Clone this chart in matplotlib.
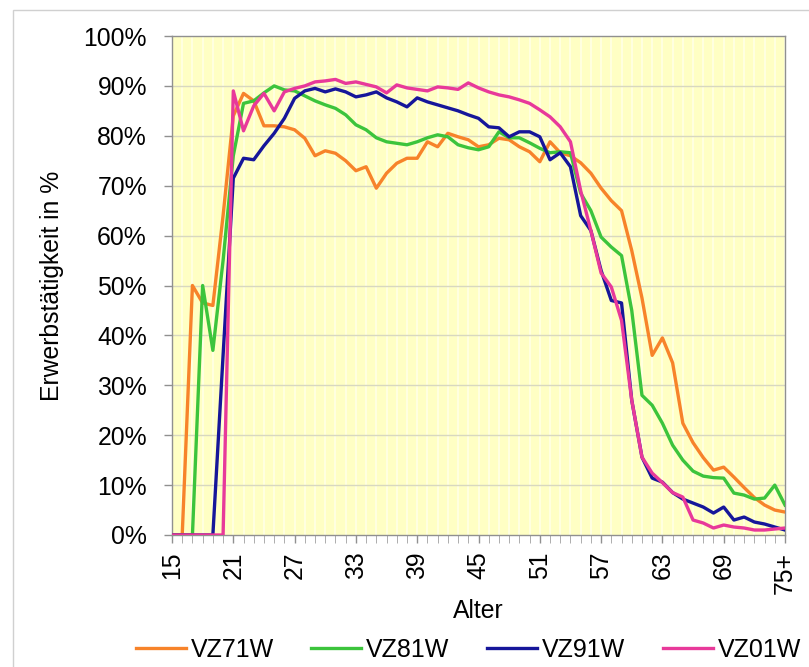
import numpy as np
import matplotlib.pyplot as plt
from matplotlib.patches import Rectangle

# Erwerbstätigkeit nach Alter (Volkszählungen), Werte in %
ages = list(range(15, 76))
tick_ages = [15, 21, 27, 33, 39, 45, 51, 57, 63, 69, 75]
tick_labels = ['15', '21', '27', '33', '39', '45', '51', '57', '63', '69', '75+']

vz71w = [0, 0, 50, 46.5, 46, 64, 84, 88.5, 87, 82,
         82, 81.8, 81.2, 79.5, 76, 77, 76.5, 75, 73, 73.8,
         69.5, 72.5, 74.5, 75.5, 75.5, 78.8, 77.8, 80.5, 79.8, 79.2,
         77.8, 78.2, 79.5, 79.2, 77.8, 76.8, 74.8, 78.8, 76.6, 76,
         74.6, 72.5, 69.5, 67, 65, 57, 47.5, 36, 39.5, 34.5,
         22.4, 18.5, 15.5, 13, 13.6, 11.6, 9.5, 7.5, 6, 5, 4.6]
vz81w = [0, 0, 0, 50, 37, 55, 76, 86.5, 87, 88.6,
         90, 89.2, 89, 88, 87, 86.2, 85.5, 84.2, 82.2, 81.2,
         79.6, 78.8, 78.5, 78.2, 78.8, 79.6, 80.2, 79.8, 78.2, 77.6,
         77.2, 77.8, 80.8, 79.6, 79.6, 78.6, 77.5, 76.6, 76.8, 76.6,
         68.5, 65, 59.7, 57.7, 56, 45, 28, 26, 22.4, 18,
         15, 12.8, 11.8, 11.5, 11.4, 8.4, 8, 7.2, 7.4, 10, 6]
vz91w = [0, 0, 0, 0, 0, 36, 71.5, 75.5, 75.2, 78,
         80.5, 83.5, 87.5, 89, 89.5, 88.8, 89.4, 88.8, 87.8, 88.2,
         88.8, 87.6, 86.8, 85.8, 87.6, 86.8, 86.2, 85.6, 85, 84.2,
         83.5, 81.8, 81.6, 79.8, 80.8, 80.8, 79.8, 75.2, 76.6, 73.8,
         64, 61, 53, 47, 46.5, 27, 15.6, 11.4, 10.6, 8.5,
         7.2, 6.4, 5.6, 4.4, 5.6, 3, 3.6, 2.6, 2.2, 1.6, 1]
vz01w = [0, 0, 0, 0, 0, 0, 89, 81, 86, 88.5,
         85, 88.8, 89.5, 90, 90.8, 91, 91.3, 90.5, 90.8, 90.3,
         89.8, 88.6, 90.2, 89.6, 89.3, 89, 89.8, 89.6, 89.3, 90.6,
         89.6, 88.8, 88.2, 87.8, 87.2, 86.5, 85.2, 83.8, 81.8, 78.8,
         69, 61, 52.5, 49.7, 43, 27, 15.6, 12.4, 10.5, 8.5,
         7.6, 3, 2.4, 1.4, 2, 1.6, 1.4, 1, 1, 1.2, 1.4]

series = [('VZ71W', vz71w, '#F7832A'),
          ('VZ81W', vz81w, '#3CC43C'),
          ('VZ91W', vz91w, '#16169A'),
          ('VZ01W', vz01w, '#E8399A')]

plt.rcParams['font.family'] = ['Liberation Sans', 'DejaVu Sans']
fs = 17.8

fig = plt.figure(figsize=(8.09, 6.67), dpi=100)
ax = fig.add_axes([172 / 809, 1 - 535 / 667, 613 / 809, 499 / 667])

# outer chart frame
fig.patches.append(Rectangle((13 / 809, -0.1), 1.2, 1 - 10 / 667 + 0.1, transform=fig.transFigure,
                             fill=False, edgecolor='#D0D0D0', linewidth=1, zorder=0))

ax.set_facecolor('#FFFFC4')
for a in ages:
    ax.axvline(a, color='#FFFFE6', linewidth=1.2, zorder=0)
for v in range(10, 100, 10):
    ax.axhline(v, color='#D8D8C0', linewidth=1, zorder=1)

for name, vals, col in series:
    ax.plot(ages, vals, color=col, linewidth=2.4, label=name, zorder=3)

ax.set_xlim(15, 75)
ax.set_ylim(0, 100)
ax.set_yticks(range(0, 101, 10))
ax.set_yticklabels([f'{v}%' for v in range(0, 101, 10)], fontsize=fs)
ax.set_xticks(tick_ages)
ax.set_xticklabels(tick_labels, rotation=90, fontsize=fs)
ax.set_xticks(ages, minor=True)
ax.tick_params(axis='both', colors='#909090', labelcolor='black', length=6, width=1)
ax.tick_params(axis='x', which='minor', colors='#A0A0A0', length=6)
ax.tick_params(axis='x', pad=6)
ax.tick_params(axis='y', pad=12)
for s in ax.spines.values():
    s.set_color('#909090')
    s.set_linewidth(1)

ax.set_xlabel('Alter', fontsize=fs, labelpad=4)
ax.set_ylabel('Erwerbstätigkeit in %', fontsize=fs, labelpad=14)

fig.legend(loc='lower left', bbox_to_anchor=(113 / 809, -0.026), ncol=4, frameon=False,
           fontsize=18, handlelength=2.0, handletextpad=0.2, columnspacing=1.5)

fig.savefig('out.png', dpi=100)
